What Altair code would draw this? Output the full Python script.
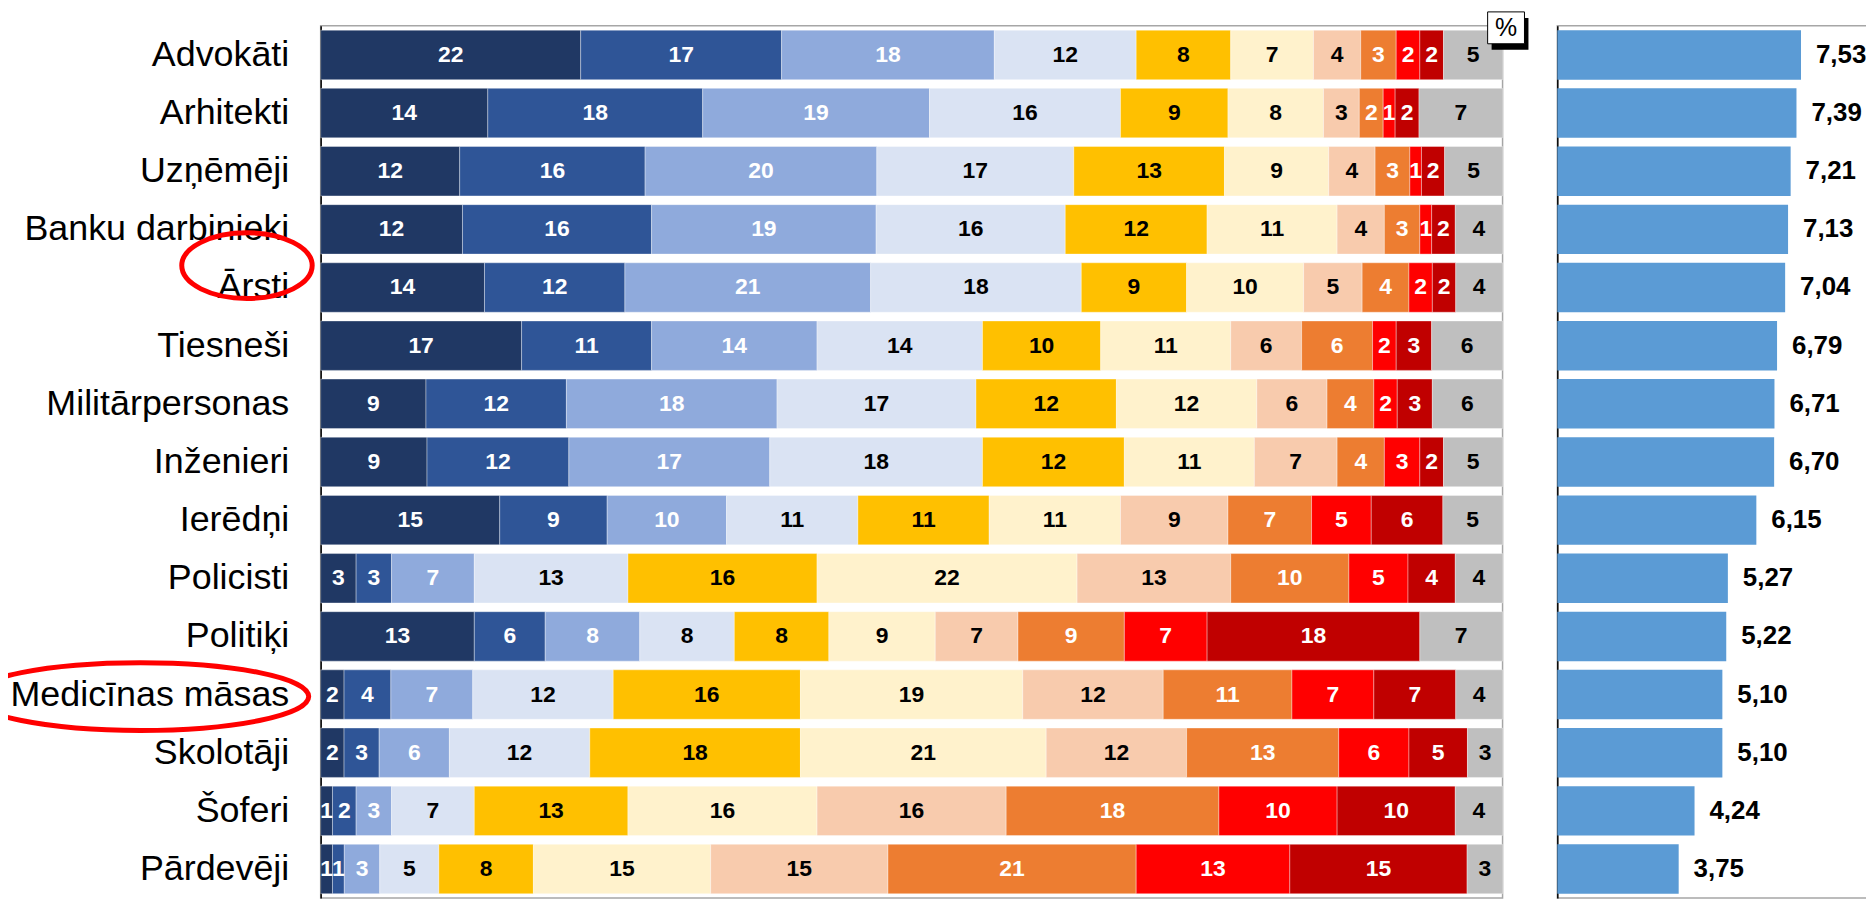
import altair as alt
import pandas as pd

professions = ["Advokāti", "Arhitekti", "Uzņēmēji", "Banku darbinieki", "Ārsti",
               "Tiesneši", "Militārpersonas", "Inženieri", "Ierēdņi", "Policisti",
               "Politiķi", "Medicīnas māsas", "Skolotāji", "Šoferi", "Pārdevēji"]

levels = ["10", "9", "8", "7", "6", "5", "4", "3", "2", "1", "Grūti pateikt"]
colors = ["#203864", "#2F5597", "#8FAADC", "#DAE3F3", "#FFC000", "#FFF2CC",
          "#F8CBAD", "#ED7D31", "#FF0000", "#C00000", "#BFBFBF"]

s10 = [22, 14, 12, 12, 14, 17, 9, 9, 15, 3, 13, 2, 2, 1, 1]
s9 = [17, 18, 16, 16, 12, 11, 12, 12, 9, 3, 6, 4, 3, 2, 1]
s8 = [18, 19, 20, 19, 21, 14, 18, 17, 10, 7, 8, 7, 6, 3, 3]
s7 = [12, 16, 17, 16, 18, 14, 17, 18, 11, 13, 8, 12, 12, 7, 5]
s6 = [8, 9, 13, 12, 9, 10, 12, 12, 11, 16, 8, 16, 18, 13, 8]
s5 = [7, 8, 9, 11, 10, 11, 12, 11, 11, 22, 9, 19, 21, 16, 15]
s4 = [4, 3, 4, 4, 5, 6, 6, 7, 9, 13, 7, 12, 12, 16, 15]
s3 = [3, 2, 3, 3, 4, 6, 4, 4, 7, 10, 9, 11, 13, 18, 21]
s2 = [2, 1, 1, 1, 2, 2, 2, 3, 5, 5, 7, 7, 6, 10, 13]
s1 = [2, 2, 2, 2, 2, 3, 3, 2, 6, 4, 18, 7, 5, 10, 15]
s_gp = [5, 7, 5, 4, 4, 6, 6, 5, 5, 4, 7, 4, 3, 4, 3]

scores = [7.53, 7.39, 7.21, 7.13, 7.04, 6.79, 6.71, 6.70, 6.15, 5.27, 5.22, 5.10, 5.10, 4.24, 3.75]

series = [s10, s9, s8, s7, s6, s5, s4, s3, s2, s1, s_gp]
rows = []
for k, (lvl, vals) in enumerate(zip(levels, series)):
    for p, v in zip(professions, vals):
        rows.append({"prof": p, "lvl": lvl, "k": k, "v": v})
df = pd.DataFrame(rows)
dfs = pd.DataFrame({"prof": professions, "score": scores})

yscale = alt.Scale(paddingInner=0.15, paddingOuter=0.075)
left_axis = alt.Axis(title=None, labelFont="Liberation Sans", labelFontSize=36,
                     labelColor="black", labelLimit=600, labelPadding=32,
                     ticks=False, tickSize=0, domainColor="black", domainWidth=1.5)
y_left = alt.Y("prof:N", sort=professions, scale=yscale, axis=left_axis)
xs = alt.Scale(domain=[0, 1], nice=False, zero=True)

base = alt.Chart(df).transform_joinaggregate(
    tot="sum(v)", groupby=["prof"]
).transform_window(
    cum="sum(v)", groupby=["prof"], sort=[alt.SortField("k")], frame=[None, 0]
).transform_calculate(
    x0="(datum.cum - datum.v) / datum.tot",
    x1="datum.cum / datum.tot",
    xm="(datum.cum - datum.v / 2) / datum.tot",
)

bars = base.mark_bar(stroke="white", strokeWidth=0.6, strokeOpacity=0.6).encode(
    y=y_left,
    x=alt.X("x0:Q", scale=xs, axis=None),
    x2="x1:Q",
    color=alt.Color("lvl:N", scale=alt.Scale(domain=levels, range=colors), legend=None),
)

seg_text = base.mark_text(font="Liberation Sans", fontWeight="bold", fontSize=23).encode(
    y=y_left,
    x=alt.X("xm:Q", scale=xs, axis=None),
    text="v:Q",
    color=alt.condition("indexof([0,1,2,7,8,9], datum.k) >= 0",
                        alt.value("white"), alt.value("black")),
)


def ellipse_path(r):
    kx = 0.5523
    ky = kx * r
    return (f"M 1 0 C 1 {ky:.4f} {kx} {r:.4f} 0 {r:.4f} "
            f"C {-kx} {r:.4f} -1 {ky:.4f} -1 0 "
            f"C -1 {-ky:.4f} {-kx} {-r:.4f} 0 {-r:.4f} "
            f"C {kx} {-r:.4f} 1 {-ky:.4f} 1 0 Z")


ell1 = alt.Chart(pd.DataFrame({"prof": ["Ārsti"]})).mark_point(
    shape=ellipse_path(66 / 131), size=131 ** 2, filled=False, color="#FF0000",
    strokeWidth=5, opacity=1, yOffset=-22
).encode(y=y_left, x=alt.value(-74))

ell2 = alt.Chart(pd.DataFrame({"prof": ["Medicīnas māsas"]})).mark_point(
    shape=ellipse_path(68 / 338), size=338 ** 2, filled=False, color="#FF0000",
    strokeWidth=5, opacity=1, yOffset=2
).encode(y=y_left, x=alt.value(-181))

one = pd.DataFrame({"t": ["%"]})
shadow = alt.Chart(one).mark_rect(color="black").encode(
    x=alt.value(1176), x2=alt.value(1213), y=alt.value(-8), y2=alt.value(24))
box = alt.Chart(one).mark_rect(fill="white", stroke="black", strokeWidth=1).encode(
    x=alt.value(1172), x2=alt.value(1209), y=alt.value(-14), y2=alt.value(18))
pct = alt.Chart(one).mark_text(font="Liberation Sans", fontSize=25, color="black").encode(
    x=alt.value(1190.5), y=alt.value(2), text="t:N")

left = alt.layer(bars, seg_text, ell1, ell2, shadow, box, pct).properties(width=1187, height=876)

right_axis = alt.Axis(title=None, labels=False, ticks=False, tickSize=0,
                      domainColor="black", domainWidth=1.5)
y_right = alt.Y("prof:N", sort=professions, scale=yscale, axis=right_axis)
rbase = alt.Chart(dfs).transform_calculate(
    lbl="replace(format(datum.score, '.2f'), '.', ',')")
rbars = rbase.mark_bar(color="#5B9BD5").encode(
    y=y_right,
    x=alt.X("score:Q", scale=alt.Scale(domain=[0, 10], nice=False), axis=None),
)
rtext = rbase.mark_text(align="left", dx=15, font="Liberation Sans", fontWeight="bold",
                        fontSize=26, color="black").encode(
    y=y_right, x="score:Q", text="lbl:N")
right = alt.layer(rbars, rtext).properties(width=325, height=876)

chart = alt.hconcat(left, right, spacing=55, bounds="flush").properties(
    padding={"left": -47, "top": 0, "right": -16, "bottom": 0}
).configure_view(stroke="#A6A6A6", strokeWidth=1.5)

chart.save("out.html", embed_options={"renderer": "svg", "actions": False})
